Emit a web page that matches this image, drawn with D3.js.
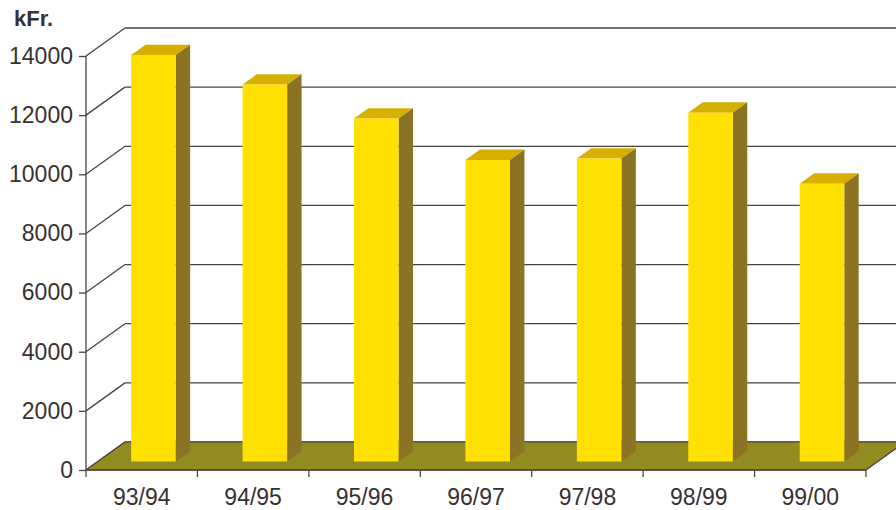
<!DOCTYPE html>
<html>
<head>
<meta charset="utf-8">
<script src="https://cdn.jsdelivr.net/npm/d3@7"></script>
<style>
  html, body { margin: 0; padding: 0; background: #fff; }
  svg { display: block; }
  text { font-family: "Liberation Sans", Arial, sans-serif; fill: #383131; }
</style>
</head>
<body>
<svg id="chart" width="896" height="510"></svg>
<script>
// Annual amounts in kFr. per season
const seasons = ["93/94", "94/95", "95/96", "96/97", "97/98", "98/99", "99/00"];
const amounts = [13750, 12750, 11600, 10200, 10250, 11800, 9400];
const tickValues = [0, 2000, 4000, 6000, 8000, 10000, 12000, 14000];
const unitLabel = "kFr.";

const svg = d3.select("#chart");

// Front plane of the 3D box
const plotLeft = 86, plotRight = 866, plotBottom = 470, plotTop = 56;
// Depth offset of the back wall
const depthX = 39, depthY = -28;
// Bars sit between these fractions of the depth
const z0 = 0.3, z1 = 0.67;

const x = d3.scaleBand().domain(seasons).range([plotLeft, plotRight]).paddingInner(0.6).paddingOuter(0.3);
const y = d3.scaleLinear().domain([0, 14000]).range([plotBottom, plotTop]);

const lineCol = "#4d4242";
const floorCol = "#928b1f";
const frontCol = "#ffe000";
const sideCol = "#8a7424";
const topCol = "#d6af00";

const pt = (px, py, z) => [px + depthX * z, py + depthY * z];

// Back wall gridlines and the diagonals joining them to the front axis
const grid = svg.append("g");
tickValues.forEach(v => {
  const [bx, by] = pt(plotLeft, y(v), 1);
  grid.append("line")
    .attr("x1", plotLeft).attr("y1", y(v)).attr("x2", bx).attr("y2", by)
    .attr("stroke", lineCol).attr("stroke-width", 1.3);
  grid.append("line")
    .attr("x1", bx).attr("y1", by).attr("x2", plotRight + depthX).attr("y2", by)
    .attr("stroke", lineCol).attr("stroke-width", 1.3);
});

// Floor
const floorPts = [pt(plotLeft, plotBottom, 0), pt(plotRight, plotBottom, 0), pt(plotRight, plotBottom, 1), pt(plotLeft, plotBottom, 1)];
svg.append("polygon")
  .attr("points", floorPts.map(p => p.join(",")).join(" "))
  .attr("fill", floorCol)
  .attr("stroke", lineCol).attr("stroke-width", 1.2).attr("stroke-linejoin", "round");

// Bars: top, side, front
const bars = svg.append("g");
seasons.forEach((s, i) => {
  const x0 = x(s), x1 = x(s) + x.bandwidth();
  const yb = y(0), yt = y(amounts[i]);
  const poly = (pts, fill) => bars.append("polygon")
    .attr("points", pts.map(p => p.join(",")).join(" "))
    .attr("fill", fill);
  poly([pt(x0, yt, z0), pt(x1, yt, z0), pt(x1, yt, z1), pt(x0, yt, z1)], topCol);
  poly([pt(x1, yt, z0), pt(x1, yt, z1), pt(x1, yb, z1), pt(x1, yb, z0)], sideCol);
  poly([pt(x0, yt, z0), pt(x1, yt, z0), pt(x1, yb, z0), pt(x0, yb, z0)], frontCol);
});

// Front value axis
const yAxis = d3.axisLeft(y).tickValues(tickValues).tickSize(7).tickPadding(6).tickFormat(d3.format("d"));
const ya = svg.append("g").attr("transform", `translate(${plotLeft},0)`).call(yAxis);
ya.select(".domain").attr("stroke", lineCol).attr("stroke-width", 1.3).attr("d", `M0,${plotBottom}V${plotTop}`);
ya.selectAll(".tick line").attr("stroke", lineCol).attr("stroke-width", 1.3);
ya.selectAll(".tick text").attr("font-size", 23).attr("fill", "#383131")
  .style("font-family", "'Liberation Sans', Arial, sans-serif");

// Front category axis with ticks between categories
const boundaries = seasons.map(s => x(s) - x.step() * 0.3).concat([plotRight]);
const xa = svg.append("g");
xa.append("line").attr("x1", plotLeft).attr("x2", plotRight).attr("y1", plotBottom).attr("y2", plotBottom)
  .attr("stroke", lineCol).attr("stroke-width", 1.3);
boundaries.forEach(b => {
  xa.append("line").attr("x1", b).attr("x2", b).attr("y1", plotBottom).attr("y2", plotBottom + 7)
    .attr("stroke", lineCol).attr("stroke-width", 1.3);
});
seasons.forEach(s => {
  xa.append("text")
    .attr("x", x(s) + x.bandwidth() / 2)
    .attr("y", 505)
    .attr("text-anchor", "middle")
    .attr("font-size", 23)
    .text(s);
});

// Unit label
svg.append("text")
  .attr("x", 14).attr("y", 26)
  .attr("font-size", 22).attr("font-weight", "bold")
  .text(unitLabel);
</script>
</body>
</html>
